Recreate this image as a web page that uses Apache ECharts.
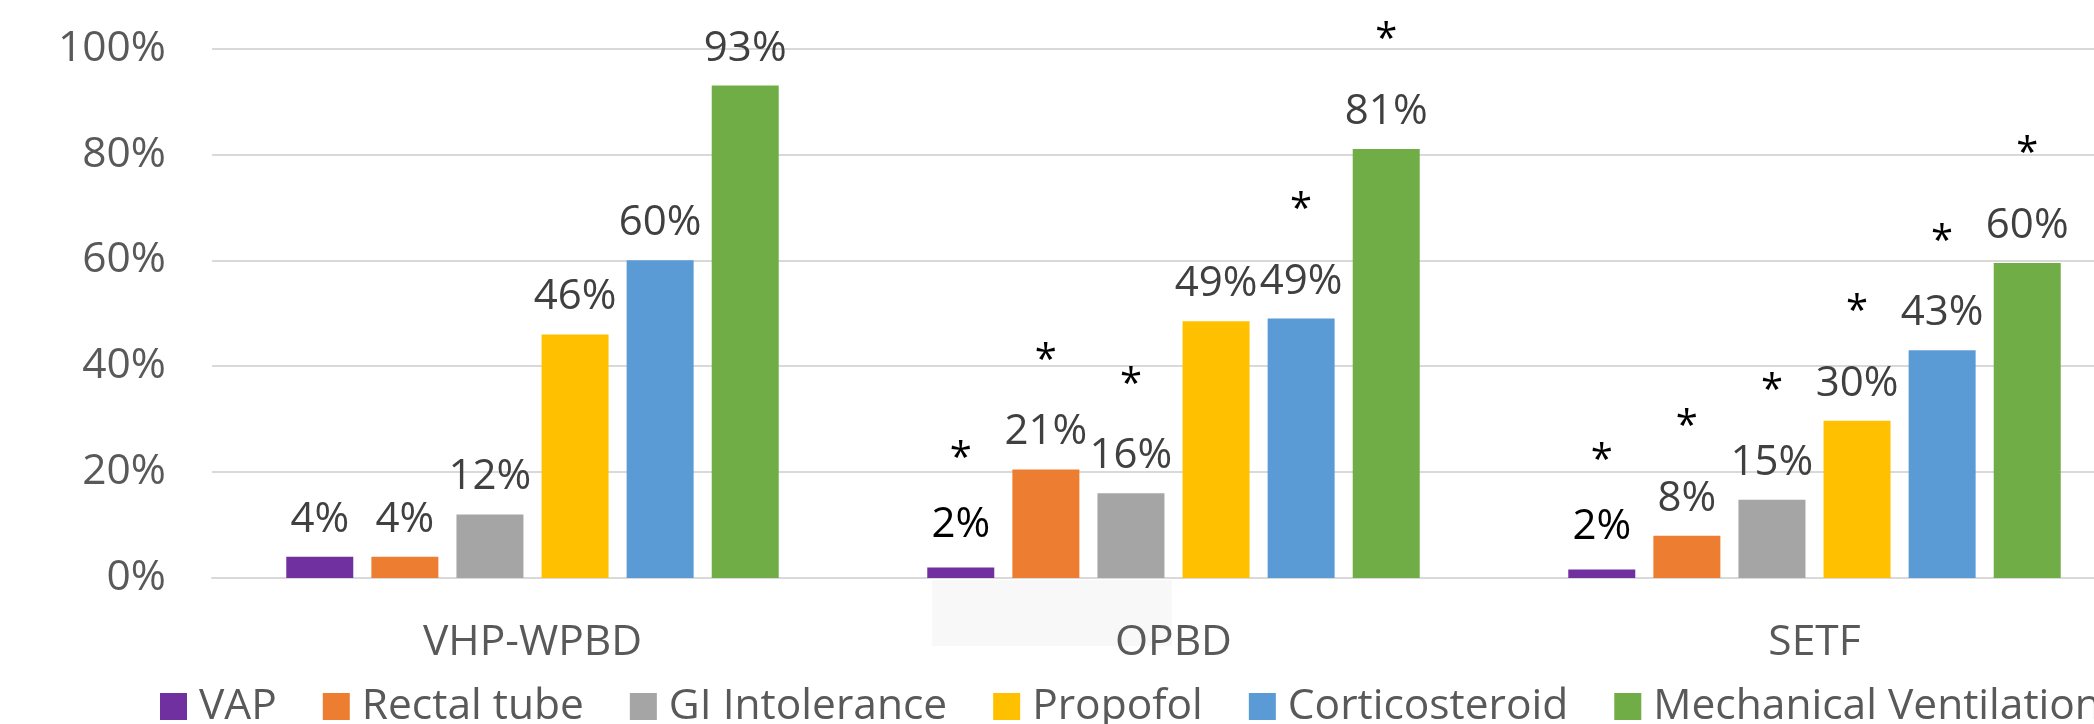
<!DOCTYPE html>
<html>
<head>
<meta charset="utf-8">
<script src="https://cdn.jsdelivr.net/npm/echarts@6/dist/echarts.min.js"></script>
<style>
html,body{margin:0;padding:0;background:#fff;}
#chart{width:2094px;height:724px;}
</style>
</head>
<body>
<div id="chart"></div>
<script>
const categories = ['VHP-WPBD', 'OPBD', 'SETF'];
const seriesNames = ['VAP', 'Rectal tube', 'GI Intolerance', 'Propofol', 'Corticosteroid', 'Mechanical Ventilation'];
const vap = [4, 2, 1.6];
const rectalTube = [4, 20.5, 8];
const giIntolerance = [12, 16, 14.8];
const propofol = [46, 48.5, 29.7];
const corticosteroid = [60, 49, 43];
const mechVent = [93, 81, 59.5];
// significance markers (*) per series, per category
const sigVap = [false, true, true];
const sigRectal = [false, true, true];
const sigGi = [false, true, true];
const sigPropofol = [false, false, true];
const sigCort = [false, true, true];
const sigMech = [false, true, true];
const yTicks = [0, 20, 40, 60, 80, 100];

const values = [vap, rectalTube, giIntolerance, propofol, corticosteroid, mechVent];
const sigs = [sigVap, sigRectal, sigGi, sigPropofol, sigCort, sigMech];
const colors = ['#7030A0', '#ED7D31', '#A5A5A5', '#FFC000', '#5B9BD5', '#70AD47'];
const FONT = '"Open Sans", "Noto Sans", sans-serif';

const chart = echarts.init(document.getElementById('chart'), null, {renderer: 'canvas'});

const series = values.map((vals, si) => ({
  name: seriesNames[si],
  type: 'bar',
  barWidth: 67,
  barGap: '27%',
  itemStyle: {color: colors[si]},
  data: vals,
  label: {
    show: true,
    position: 'top',
    distance: 14,
    fontFamily: FONT,
    formatter: function (p) {
      const txt = Math.round(p.value) + '%';
      const vStyle = (si === 0 && sigs[si][p.dataIndex]) ? 'b' : 'v';
      return sigs[si][p.dataIndex] ? '{s|*}\n{' + vStyle + '|' + txt + '}' : '{v|' + txt + '}';
    },
    rich: {
      s: {fontSize: 40, lineHeight: 96, color: '#000', fontFamily: FONT},
      v: {fontSize: 42, lineHeight: 46, color: '#404040', fontFamily: FONT},
      b: {fontSize: 42, lineHeight: 46, color: '#000', fontFamily: FONT, padding: [0, 0, 10, 0]}
    }
  }
}));

chart.setOption({
  backgroundColor: '#ffffff',
  animation: false,
  graphic: [{
    type: 'rect',
    left: 932, top: 580,
    shape: {width: 240, height: 66},
    style: {fill: '#f8f8f8'},
    z: -1
  }],
  legend: {
    data: seriesNames,
    left: 155,
    top: 680,
    width: 2600,
    outerBoundsMode: 'none',
    icon: 'rect',
    itemWidth: 27,
    itemHeight: 27,
    itemGap: 46,
    textStyle: {fontSize: 42.5, lineHeight: 42, color: '#595959', fontFamily: FONT, padding: [0, 0, 0, 7]}
  },
  grid: {left: 212, top: 48.5, right: -41, bottom: 146, containLabel: false, outerBoundsMode: 'none'},
  xAxis: {
    type: 'category',
    data: categories,
    axisTick: {show: false},
    axisLine: {lineStyle: {color: '#d9d9d9', width: 2}},
    axisLabel: {fontSize: 42.5, color: '#595959', fontFamily: FONT, margin: 43}
  },
  yAxis: {
    type: 'value',
    min: yTicks[0],
    max: yTicks[yTicks.length - 1],
    interval: yTicks[1] - yTicks[0],
    axisLine: {show: false},
    axisTick: {show: false},
    splitLine: {lineStyle: {color: '#d9d9d9', width: 2}},
    axisLabel: {fontSize: 42.5, color: '#595959', fontFamily: FONT, margin: 46, formatter: '{value}%'}
  },
  series: series
});
</script>
</body>
</html>
